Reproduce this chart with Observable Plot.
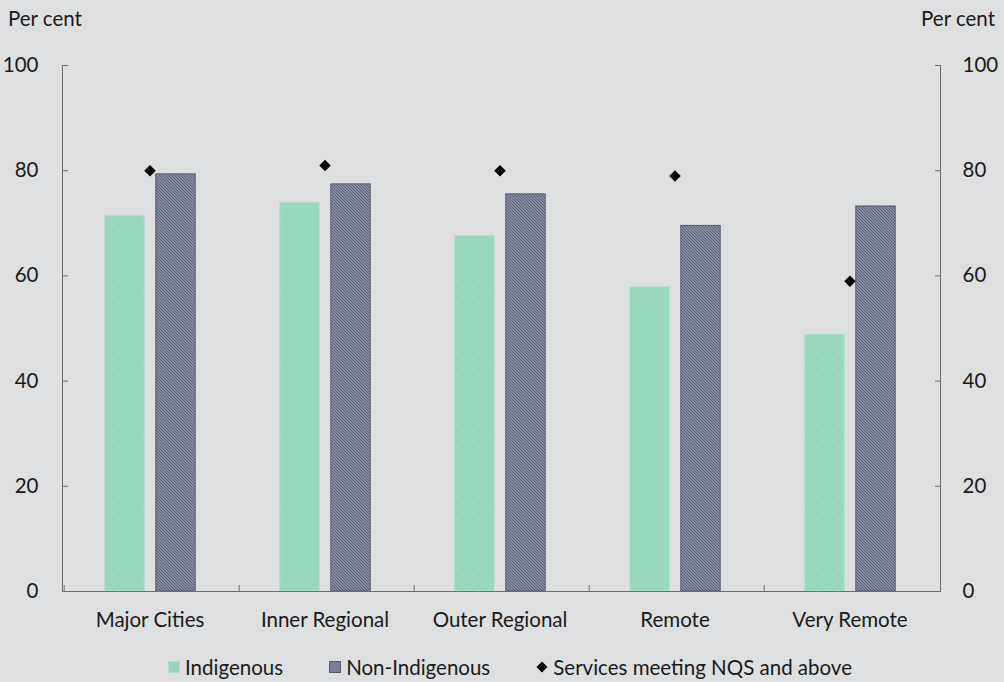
<!DOCTYPE html>
<html>
<head>
<meta charset="utf-8">
<script src="https://cdn.jsdelivr.net/npm/d3@7"></script>
<script src="https://cdn.jsdelivr.net/npm/@observablehq/plot@0.6"></script>
<style>
  html, body { margin: 0; padding: 0; background: #dedfe1; }
  body { width: 1004px; height: 682px; overflow: hidden; font-family: Lato, "Open Sans", sans-serif; color: #1a1a1a; }
  #head { position: relative; height: 40px; font-size: 20.5px; }
  #head .l { position: absolute; left: 8px; top: 6px; }
  #head .r { position: absolute; right: 9px; top: 6px; }
  #legend { display: flex; justify-content: center; align-items: center; gap: 46px; font-size: 20.5px; height: 34px; padding-left: 16px; }
  #legend .item { display: flex; align-items: center; gap: 5px; }
  #legend .sw { width: 12px; height: 12px; box-sizing: border-box; }
</style>
</head>
<body>
<div id="head"><span class="l">Per cent</span><span class="r">Per cent</span></div>
<div id="chart"></div>
<div id="legend"></div>
<script>
const categories = ["Major Cities", "Inner Regional", "Outer Regional", "Remote", "Very Remote"];
const indigenous = [71.4, 73.9, 67.6, 57.8, 48.8];
const nonIndigenous = [79.3, 77.4, 75.5, 69.5, 73.2];
const nqs = [80, 81, 80, 79, 59];
const yTicks = [0, 20, 40, 60, 80, 100];
const seriesNames = ["Indigenous", "Non-Indigenous", "Services meeting NQS and above"];

const W = 1004, H = 610;
const mL = 62, mR = 64, mT = 25, mB = 59;
const step = (W - mL - mR) / categories.length;
const barW = 40;
const indLeft = step / 2 - 47;
const nonLeft = step / 2 + 4;

const rowsInd = categories.map((c, i) => ({cat: c, v: indigenous[i]}));
const rowsNon = categories.map((c, i) => ({cat: c, v: nonIndigenous[i]}));
const rowsNqs = categories.map((c, i) => ({cat: c, v: nqs[i]}));

const axisColor = "#6e6e6e";
const font = "Lato, 'Open Sans', sans-serif";
const fs = 20.5;

function defs() {
  const ns = "http://www.w3.org/2000/svg";
  const d = document.createElementNS(ns, "defs");
  d.innerHTML = `
    <pattern id="dots" patternUnits="userSpaceOnUse" width="9" height="9">
      <rect width="9" height="9" fill="#98d7bc"></rect>
      <rect x="4" y="4" width="1" height="1" fill="#c3ead9"></rect>
    </pattern>
    <pattern id="hatch" patternUnits="userSpaceOnUse" width="3" height="3">
      <rect width="3" height="3" fill="#898da0"></rect>
      <rect x="0" y="0" width="1" height="1" fill="#5a5f73"></rect>
      <rect x="1" y="1" width="1" height="1" fill="#5a5f73"></rect>
      <rect x="2" y="2" width="1" height="1" fill="#5a5f73"></rect>
    </pattern>`;
  return d;
}

const chart = Plot.plot({
  width: W,
  height: H,
  marginLeft: mL,
  marginRight: mR,
  marginTop: mT,
  marginBottom: mB,
  style: {background: "transparent", fontFamily: font, fontSize: fs + "px", color: "#1a1a1a"},
  x: {domain: categories, padding: 0, label: null},
  y: {domain: [0, 100], label: null},
  marks: [
    defs,
    Plot.barY(rowsInd, {x: "cat", y: "v", fill: "url(#dots)", stroke: "#addfca", strokeWidth: 1,
      insetLeft: indLeft, insetRight: step - indLeft - barW}),
    Plot.barY(rowsNon, {x: "cat", y: "v", fill: "url(#hatch)", stroke: "#555a6e", strokeWidth: 1,
      insetLeft: nonLeft, insetRight: step - nonLeft - barW}),
    Plot.dot(rowsNqs, {x: "cat", y: "v", symbol: "square", r: 4.6, rotate: 45, fill: "black", stroke: "none", dx: -2}),
    Plot.frame({anchor: "left", stroke: axisColor}),
    Plot.frame({anchor: "right", stroke: axisColor}),
    Plot.frame({anchor: "bottom", stroke: axisColor}),
    Plot.axisY({anchor: "left", ticks: yTicks, tickSize: 0, tickPadding: 24, fontSize: fs, label: null}),
    Plot.axisY({anchor: "right", ticks: yTicks, tickSize: 0, tickPadding: 22, fontSize: fs, label: null}),
    Plot.axisY({anchor: "left", ticks: yTicks, tickSize: -6, tickFormat: () => "", stroke: axisColor, label: null}),
    Plot.axisY({anchor: "right", ticks: yTicks, tickSize: -6, tickFormat: () => "", stroke: axisColor, label: null}),
    Plot.axisX({anchor: "bottom", tickSize: 0, tickPadding: 21, fontSize: fs, label: null, dx: -2}),
    Plot.axisX({anchor: "bottom", tickSize: -6, dx: -step / 2, tickFormat: () => "", stroke: axisColor, label: null})
  ]
});
document.getElementById("chart").appendChild(chart);

const legend = document.getElementById("legend");
const swatches = [
  `<div class="sw" style="background:#98d7bc;border:1px solid #addfca"></div>`,
  `<div class="sw" style="background:#7a7e92;border:1px solid #555a6e"></div>`,
  `<svg width="12" height="12"><path d="M6,0.5L11.5,6L6,11.5L0.5,6Z" fill="black"/></svg>`
];
seriesNames.forEach((n, i) => {
  const it = document.createElement("div");
  it.className = "item";
  it.innerHTML = swatches[i] + `<span>${n}</span>`;
  legend.appendChild(it);
});
</script>
</body>
</html>
